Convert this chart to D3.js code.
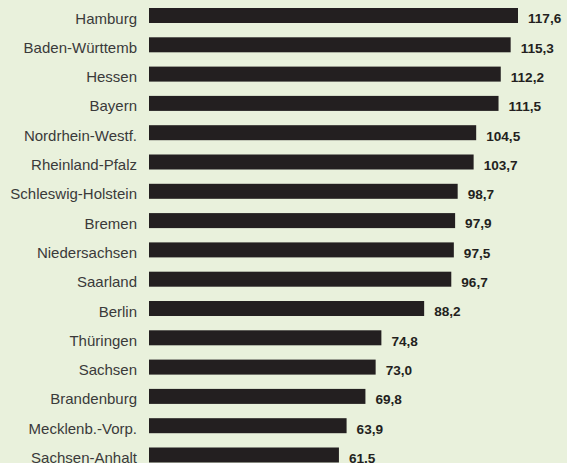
<!DOCTYPE html>
<html>
<head>
<meta charset="utf-8">
<script src="https://cdn.jsdelivr.net/npm/d3@7"></script>
<style>
  html, body { margin: 0; padding: 0; background: #e9f1dc; }
  svg { display: block; }
</style>
</head>
<body>
<script>
const width = 567,
    height = 463;

// Bundesländer, index values
const states = ["Hamburg", "Baden-Württemb", "Hessen", "Bayern", "Nordrhein-Westf.",
    "Rheinland-Pfalz", "Schleswig-Holstein", "Bremen", "Niedersachsen", "Saarland",
    "Berlin", "Thüringen", "Sachsen", "Brandenburg", "Mecklenb.-Vorp.", "Sachsen-Anhalt"];
const values = [117.6, 115.3, 112.2, 111.5, 104.5, 103.7, 98.7, 97.9, 97.5, 96.7,
    88.2, 74.8, 73.0, 69.8, 63.9, 61.5];

const data = states.map((s, i) => ({ state: s, value: values[i] }));

const svg = d3.select('body')
    .append('svg')
    .attr('width', width)
    .attr('height', height);

svg.append('rect')
    .attr('width', width)
    .attr('height', height)
    .attr('fill', '#e9f1dc');

const x = d3.scaleLinear()
    .domain([2, 117.6])
    .range([149, 518]);

const y = d3.scaleBand()
    .domain(states)
    .range([8, 462.5])
    .paddingInner(0.488)
    .paddingOuter(0);

const fmt = v => d3.format('.1f')(v).replace('.', ',');

const rows = svg.append('g')
    .selectAll('g')
    .data(data)
    .enter().append('g');

rows.append('rect')
    .attr('x', x.range()[0])
    .attr('y', d => y(d.state))
    .attr('width', d => x(d.value) - x.range()[0])
    .attr('height', y.bandwidth())
    .attr('fill', '#231f20');

rows.append('text')
    .attr('x', 137)
    .attr('y', d => y(d.state) + y.bandwidth() + 0.5)
    .attr('text-anchor', 'end')
    .attr('font-family', 'Liberation Sans, Arial, sans-serif')
    .attr('font-size', 15)
    .attr('fill', '#3a3a3a')
    .text(d => d.state);

rows.append('text')
    .attr('x', d => x(d.value) + 10)
    .attr('y', d => y(d.state) + y.bandwidth() + 0.3)
    .attr('font-family', 'Liberation Sans, Arial, sans-serif')
    .attr('font-weight', 'bold')
    .attr('font-size', 13.6)
    .attr('fill', '#231f20')
    .text(d => fmt(d.value));
</script>
</body>
</html>
